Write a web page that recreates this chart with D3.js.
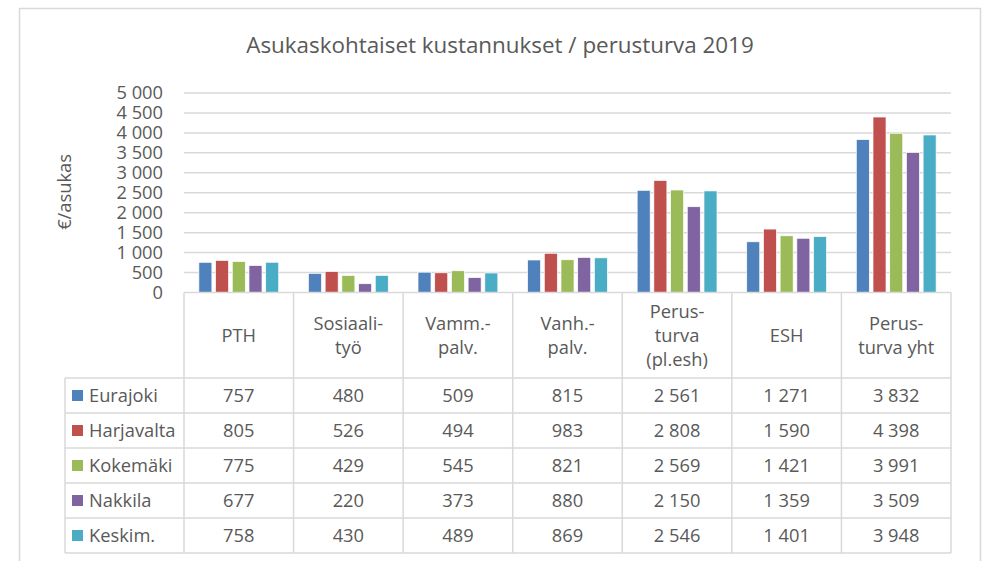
<!DOCTYPE html>
<html>
<meta charset="utf-8">
<title>Asukaskohtaiset kustannukset</title>
<style>
body { margin: 0; background: #fff; }
text { font-family: "Open Sans", sans-serif; fill: #595959; }
.grid line, .tbl line { stroke: #d9d9d9; stroke-width: 1.5px; }
.tick text, .cell, .legend text, .ylabel { font-size: 18.3px; }
.title { font-size: 22.4px; }
</style>
<script src="https://d3js.org/d3.v7.min.js"></script>
<body>
<svg id="chart" width="986" height="561"></svg>
<script>
const categories = [["PTH"], ["Sosiaali-", "työ"], ["Vamm.-", "palv."], ["Vanh.-", "palv."],
  ["Perus-", "turva", "(pl.esh)"], ["ESH"], ["Perus-", "turva yht"]];
const seriesNames = ["Eurajoki", "Harjavalta", "Kokemäki", "Nakkila", "Keskim."];
const eurajoki   = [757, 480, 509, 815, 2561, 1271, 3832];
const harjavalta = [805, 526, 494, 983, 2808, 1590, 4398];
const kokemaki   = [775, 429, 545, 821, 2569, 1421, 3991];
const nakkila    = [677, 220, 373, 880, 2150, 1359, 3509];
const keskim     = [758, 430, 489, 869, 2546, 1401, 3948];
const yTicks = [0, 500, 1000, 1500, 2000, 2500, 3000, 3500, 4000, 4500, 5000];
const colors = ["#4F81BD", "#C0504D", "#9BBB59", "#8064A2", "#4BACC6"];

const values = [eurajoki, harjavalta, kokemaki, nakkila, keskim];
const fi = d3.formatLocale({decimal: ",", thousands: "\u00a0", grouping: [3], currency: ["", " €"]});
const fmt = fi.format(",d");

const svg = d3.select("#chart");
const plotLeft = 184, plotRight = 951, plotTop = 93, base = 292.5;
const headerBottom = 378, rowH = 35, legendLeft = 65;

// outer chart border
svg.append("rect").attr("x", 19.5).attr("y", 8.5).attr("width", 961).attr("height", 600)
  .attr("fill", "none").attr("stroke", "#d9d9d9").attr("stroke-width", 1.5);

svg.append("text").attr("class", "title")
  .attr("x", 500).attr("y", 53).attr("text-anchor", "middle")
  .text("Asukaskohtaiset kustannukset / perusturva 2019");

const x = d3.scaleBand().domain(d3.range(categories.length)).range([plotLeft, plotRight]);
const x1 = d3.scaleBand().domain(d3.range(seriesNames.length))
  .range([0, x.bandwidth()]).paddingInner(0.22).paddingOuter(0.89);
const y = d3.scaleLinear().domain([0, 5000]).range([base, plotTop]);

// gridlines
svg.append("g").attr("class", "grid")
  .selectAll("line").data(yTicks.slice(1)).join("line")
  .attr("x1", plotLeft).attr("x2", plotRight)
  .attr("y1", d => y(d)).attr("y2", d => y(d));

// y axis labels
const yAxis = svg.append("g").attr("transform", `translate(${plotLeft},0)`)
  .call(d3.axisLeft(y).tickValues(yTicks).tickFormat(fmt).tickSize(0).tickPadding(21));
yAxis.select(".domain").remove();
yAxis.attr("font-family", null).attr("font-size", null);
yAxis.selectAll("text").attr("fill", "#595959");

svg.append("text").attr("class", "ylabel")
  .attr("transform", "translate(71,192) rotate(-90)")
  .attr("text-anchor", "middle").text("€/asukas");

// bars
svg.append("g").selectAll("g").data(values).join("g")
  .attr("fill", (d, i) => colors[i])
  .each(function(vals, si) {
    d3.select(this).selectAll("rect").data(vals).join("rect")
      .attr("x", (d, ci) => x(ci) + x1(si))
      .attr("width", x1.bandwidth())
      .attr("y", d => y(d))
      .attr("height", d => base - y(d))
      .attr("stroke", "#fff").attr("stroke-width", 0.7);
  });

// data table
const tbl = svg.append("g").attr("class", "tbl");
const tableBottom = headerBottom + rowH * seriesNames.length;
tbl.append("line").attr("x1", plotLeft).attr("x2", plotRight).attr("y1", base).attr("y2", base);
d3.range(categories.length + 1).forEach(i => {
  const xx = i < categories.length ? x(i) : plotRight;
  tbl.append("line").attr("x1", xx).attr("x2", xx).attr("y1", base).attr("y2", tableBottom);
});
tbl.append("line").attr("x1", legendLeft).attr("x2", legendLeft).attr("y1", headerBottom).attr("y2", tableBottom);
d3.range(seriesNames.length + 1).forEach(r => {
  const yy = headerBottom + r * rowH;
  tbl.append("line").attr("x1", legendLeft).attr("x2", plotRight).attr("y1", yy).attr("y2", yy);
});

// header text
const lineH = 24, headMid = (base + headerBottom) / 2;
categories.forEach((lines, ci) => {
  const t = svg.append("text").attr("class", "cell").attr("text-anchor", "middle");
  lines.forEach((ln, li) => {
    t.append("tspan").attr("x", x(ci) + x.bandwidth() / 2)
      .attr("y", headMid + (li - (lines.length - 1) / 2) * lineH)
      .attr("dy", "0.35em").text(ln);
  });
});

// legend column + values
const leg = svg.append("g").attr("class", "legend");
seriesNames.forEach((name, si) => {
  const cy = headerBottom + si * rowH + rowH / 2;
  leg.append("rect").attr("x", 72).attr("y", cy - 5.5).attr("width", 11).attr("height", 11)
    .attr("fill", colors[si]);
  leg.append("text").attr("x", 89).attr("y", cy).attr("dy", "0.35em").text(name);
  values[si].forEach((v, ci) => {
    svg.append("text").attr("class", "cell").attr("text-anchor", "middle")
      .attr("x", x(ci) + x.bandwidth() / 2).attr("y", cy).attr("dy", "0.35em")
      .text(fmt(v));
  });
});
</script>
</body>
</html>
